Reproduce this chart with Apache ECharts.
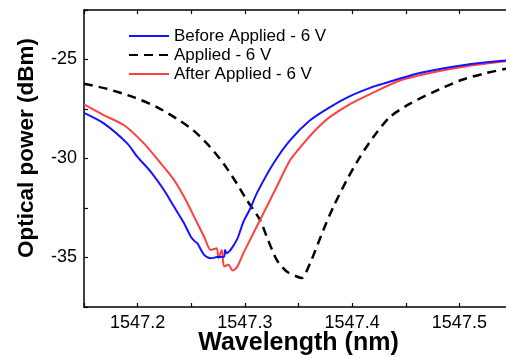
<!DOCTYPE html>
<html><head><meta charset="utf-8">
<script src="https://cdn.jsdelivr.net/npm/echarts@6/dist/echarts.min.js"></script>
<style>html,body{margin:0;padding:0;background:#fff;overflow:hidden}#c{width:513px;height:358px}</style>
</head><body><div id="c"></div>
<script>
const seriesNames = ['Before Applied - 6 V', 'Applied - 6 V', 'After Applied - 6 V'];
const xLabelTicks = [1547.2, 1547.3, 1547.4, 1547.5];
const yLabelTicks = [-25, -30, -35];

const beforeX = [1547.150,1547.1688,1547.1905,1547.1998,1547.2123,1547.2247,1547.234,1547.2433,1547.2496,1547.2536,1547.2557,1547.262,1547.2682,1547.2738,1547.2806,1547.2815,1547.2831,1547.2925,1547.2986,1547.3048,1547.3111,1547.3266,1547.3421,1547.3608,1547.3794,1547.398,1547.4167,1547.4291,1547.4602,1547.4912,1547.5192,1547.5434];
const beforeY = [-27.70,-28.24,-29.25,-29.92,-30.67,-31.60,-32.44,-33.27,-33.95,-34.20,-34.28,-34.87,-35.04,-34.98,-34.95,-34.62,-34.78,-34.11,-33.20,-32.55,-31.76,-30.25,-29.08,-28.07,-27.40,-26.85,-26.43,-26.22,-25.72,-25.39,-25.18,-25.05];

const appliedX = [1547.150,1547.1713,1547.1961,1547.2179,1547.2365,1547.252,1547.2676,1547.280,1547.2925,1547.3018,1547.3142,1547.3204,1547.3297,1547.339,1547.3484,1547.353,1547.3608,1547.3732,1547.3825,1547.395,1547.4074,1547.4198,1547.4353,1547.454,1547.4757,1547.5005,1547.5223,1547.5434];
const appliedY = [-26.22,-26.48,-26.90,-27.40,-27.99,-28.58,-29.42,-30.25,-31.26,-32.10,-33.11,-33.95,-35.12,-35.71,-35.96,-36.04,-35.29,-33.61,-32.44,-31.09,-29.92,-28.91,-27.90,-27.23,-26.65,-26.06,-25.72,-25.47];

const afterX = [1547.150,1547.1688,1547.1874,1547.2061,1547.2216,1547.234,1547.2433,1547.2496,1547.2557,1547.262,1547.2682,1547.2738,1547.2753,1547.2785,1547.2806,1547.2846,1547.2887,1547.293,1547.2986,1547.3048,1547.3157,1547.3297,1547.3421,1547.3545,1547.367,1547.3794,1547.398,1547.4167,1547.4446,1547.4757,1547.5068,1547.5434];
const afterY = [-27.27,-27.82,-28.32,-29.25,-30.25,-31.09,-31.93,-32.60,-33.27,-33.95,-34.62,-34.53,-35.04,-34.62,-35.46,-35.37,-35.66,-35.46,-34.78,-34.11,-32.94,-31.43,-30.09,-29.25,-28.50,-27.90,-27.25,-26.75,-26.06,-25.64,-25.34,-25.09];

function pairs(xs, ys) { return xs.map((x, i) => [x, ys[i]]); }
function near(v, list) { return list.some(t => Math.abs(v - t) < 1e-6); }

const chart = echarts.init(document.getElementById('c'), null, {renderer: 'canvas'});
const FONT = 'Liberation Sans, Arial, sans-serif';
const axisLine = {show: true, onZero: false, lineStyle: {color: '#000', width: 1.5}};
const axisTick = {show: true, inside: true, length: 4, lineStyle: {color: '#000', width: 1.2}};

chart.setOption({
  animation: false,
  backgroundColor: '#fff',
  grid: {left: 84, top: 10, bottom: 51, right: 0, containLabel: false, outerBoundsMode: 'none'},
  legend: {
    orient: 'vertical', left: 123, top: 22, itemWidth: 40, itemHeight: 14, itemGap: 1,
    itemStyle: {opacity: 0},
    textStyle: {fontFamily: FONT, fontSize: 17, color: '#000', lineHeight: 18},
    data: seriesNames
  },
  xAxis: [{
    type: 'value', min: 1547.15, max: 1547.55, interval: 0.05,
    axisLine, axisTick, splitLine: {show: false},
    axisLabel: {margin: 7, fontFamily: FONT, fontSize: 18, color: '#000',
      formatter: v => near(v, xLabelTicks) ? v.toFixed(1) : ''},
    name: 'Wavelength (nm)', nameLocation: 'middle', nameGap: 24, nameMoveOverlap: false,
    nameTextStyle: {fontFamily: FONT, fontSize: 25, fontWeight: 'bold', color: '#000'}
  }, {
    type: 'value', position: 'top', min: 1547.15, max: 1547.55, interval: 0.05,
    axisLine, axisTick, axisLabel: {show: false}, splitLine: {show: false}
  }],
  yAxis: [{
    type: 'value', min: -37.5, max: -22.5, interval: 2.5,
    axisLine, axisTick, splitLine: {show: false},
    axisLabel: {margin: 7, fontFamily: FONT, fontSize: 18, color: '#000',
      formatter: v => near(v, yLabelTicks) ? String(v) : ''}
  }, {
    type: 'value', position: 'right', min: -37.5, max: -22.5, interval: 2.5,
    axisLine, axisTick, axisLabel: {show: false}, splitLine: {show: false}
  }],
  graphic: [{
    type: 'text', x: 27, y: 148, rotation: Math.PI / 2,
    style: {text: 'Optical power (dBm)', fontFamily: FONT, fontSize: 22.5, fontWeight: 'bold',
      fill: '#000', align: 'center', verticalAlign: 'middle'}
  }],
  series: [{
    name: seriesNames[0], type: 'line', symbol: 'none', smooth: 0.25, data: pairs(beforeX, beforeY),
    lineStyle: {color: '#1414ff', width: 2}, itemStyle: {color: '#1414ff'}, z: 3
  }, {
    name: seriesNames[1], type: 'line', symbol: 'none', smooth: 0.25, data: pairs(appliedX, appliedY),
    lineStyle: {color: '#000', width: 2.5, type: [9, 6]}, itemStyle: {color: '#000'}, z: 2
  }, {
    name: seriesNames[2], type: 'line', symbol: 'none', smooth: 0.25, data: pairs(afterX, afterY),
    lineStyle: {color: '#ff4040', width: 2}, itemStyle: {color: '#ff4040'}, z: 2
  }]
});
</script></body></html>
